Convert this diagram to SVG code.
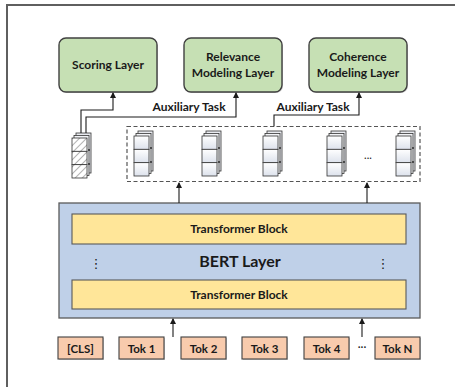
<svg xmlns="http://www.w3.org/2000/svg" width="455" height="387" viewBox="0 0 455 387">
<style>
.t{font-family:Lato,"Liberation Sans",sans-serif;font-weight:bold;fill:#1a1a1a;text-anchor:middle}
.gbox{fill:#c6e0b4;stroke:#404040;stroke-width:1.4}
.tok{fill:#f8cbad;stroke:#404040;stroke-width:1.1}
.tb{fill:#ffe699;stroke:#5a5a5a;stroke-width:1.1}
.con{fill:none;stroke:#1a1a1a;stroke-width:1.1}
.sh{fill:#000;opacity:.18}
</style>
<defs>
<marker id="ah" markerWidth="6" markerHeight="6" refX="5" refY="3" orient="auto" markerUnits="userSpaceOnUse">
<path d="M0,0 L6,3 L0,6 z" fill="#1a1a1a"/>
</marker>
<linearGradient id="cg" x1="0" y1="0" x2="0" y2="1">
<stop offset="0" stop-color="#ffffff"/><stop offset="1" stop-color="#dde2ec"/>
</linearGradient>
<pattern id="hatch" width="5" height="5" patternUnits="userSpaceOnUse" patternTransform="rotate(45)">
<rect width="5" height="5" fill="#fff"/>
<line x1="0" y1="0" x2="0" y2="5" stroke="#555" stroke-width="0.9"/>
</pattern>
<g id="back">
<rect x="4" y="-5" width="15" height="40" fill="#e9ebf0" stroke="#333" stroke-width="0.8"/>
<rect x="2" y="-2.5" width="15" height="40" fill="#f2f3f6" stroke="#333" stroke-width="0.8"/>
<circle cx="17" cy="12" r="0.9" fill="#222"/>
<circle cx="17" cy="26" r="0.9" fill="#222"/>
</g>
<g id="stack">
<use href="#back"/>
<rect x="0" y="0" width="15" height="13.33" fill="url(#cg)" stroke="#333" stroke-width="0.8"/>
<rect x="0" y="13.33" width="15" height="13.33" fill="url(#cg)" stroke="#333" stroke-width="0.8"/>
<rect x="0" y="26.67" width="15" height="13.33" fill="url(#cg)" stroke="#333" stroke-width="0.8"/>
</g>
<g id="hstack">
<use href="#back"/>
<rect x="0" y="0" width="15" height="13.33" fill="url(#hatch)" stroke="#333" stroke-width="0.8"/>
<rect x="0" y="13.33" width="15" height="13.33" fill="url(#hatch)" stroke="#333" stroke-width="0.8"/>
<rect x="0" y="26.67" width="15" height="13.33" fill="url(#hatch)" stroke="#333" stroke-width="0.8"/>
</g>
</defs>
<rect width="455" height="387" fill="#fff"/>
<path d="M7,387 V5 H455" fill="none" stroke="#5f5f5f" stroke-width="2"/>

<g id="scoring">
<rect class="sh" x="60" y="39" width="98" height="54" rx="7"/>
<rect class="gbox" x="59" y="38" width="98" height="54" rx="7"/>
<text class="t" x="108" y="69" font-size="12">Scoring Layer</text>
</g>
<g id="relevance">
<rect class="sh" x="185" y="39" width="98" height="54" rx="7"/>
<rect class="gbox" x="184" y="38" width="98" height="54" rx="7"/>
<text class="t" x="233" y="61" font-size="12">Relevance</text>
<text class="t" x="233" y="76.5" font-size="12">Modeling Layer</text>
</g>
<g id="coherence">
<rect class="sh" x="310" y="39" width="98" height="54" rx="7"/>
<rect class="gbox" x="309" y="38" width="98" height="54" rx="7"/>
<text class="t" x="358" y="61" font-size="12">Coherence</text>
<text class="t" x="358" y="76.5" font-size="12">Modeling Layer</text>
</g>

<g id="cls-vector">
<use href="#hstack" x="72" y="138"/>
</g>
<g id="token-vectors">
<rect x="127" y="126.5" width="293" height="55" fill="none" stroke="#555" stroke-width="1.2" stroke-dasharray="4,2.5"/>
<use href="#stack" x="134" y="136"/>
<use href="#stack" x="202" y="136"/>
<use href="#stack" x="263" y="136"/>
<use href="#stack" x="327" y="136"/>
<text class="t" x="368" y="159" font-size="11" style="font-weight:normal">...</text>
<use href="#stack" x="396" y="136"/>
</g>

<g id="bert">
<rect x="59" y="203" width="361" height="115" fill="#bfd0e8" stroke="#5a5a5a" stroke-width="1.3"/>
<rect class="tb" x="72" y="214" width="334" height="30"/>
<text class="t" x="239" y="233" font-size="12">Transformer Block</text>
<text class="t" x="240" y="267" font-size="16">BERT Layer</text>
<text class="t" x="96" y="268" font-size="13" style="font-family:'DejaVu Sans',sans-serif;font-weight:normal">⋮</text>
<text class="t" x="383" y="268" font-size="13" style="font-family:'DejaVu Sans',sans-serif;font-weight:normal">⋮</text>
<rect class="tb" x="72" y="280" width="334" height="29"/>
<text class="t" x="239" y="299" font-size="12">Transformer Block</text>
</g>

<g id="tokens">
<rect class="sh" x="59" y="338" width="45" height="22"/>
<rect class="tok" x="58" y="337" width="45" height="22"/>
<text class="t" x="80.5" y="352.5" font-size="11.5">[CLS]</text>
<rect class="sh" x="120" y="338" width="45" height="22"/>
<rect class="tok" x="119" y="337" width="45" height="22"/>
<text class="t" x="141.5" y="352.5" font-size="11.5">Tok 1</text>
<rect class="sh" x="182" y="338" width="45" height="22"/>
<rect class="tok" x="181" y="337" width="45" height="22"/>
<text class="t" x="203.5" y="352.5" font-size="11.5">Tok 2</text>
<rect class="sh" x="243" y="338" width="45" height="22"/>
<rect class="tok" x="242" y="337" width="45" height="22"/>
<text class="t" x="264.5" y="352.5" font-size="11.5">Tok 3</text>
<rect class="sh" x="305" y="338" width="45" height="22"/>
<rect class="tok" x="304" y="337" width="45" height="22"/>
<text class="t" x="326.5" y="352.5" font-size="11.5">Tok 4</text>
<text class="t" x="362" y="351" font-size="11" style="font-weight:normal">···</text>
<rect class="sh" x="376" y="338" width="45" height="22"/>
<rect class="tok" x="375" y="337" width="45" height="22"/>
<text class="t" x="397.5" y="352.5" font-size="11.5">Tok N</text>
</g>

<g id="connectors">
<path class="con" d="M81,133 V110 H113 V93" marker-end="url(#ah)"/>
<path class="con" d="M86,133 V117 H236 V93" marker-end="url(#ah)"/>
<path class="con" d="M274,126.5 V115 H359 V93" marker-end="url(#ah)"/>
<text class="t" x="189" y="111" font-size="12">Auxiliary Task</text>
<text class="t" x="313" y="111" font-size="12">Auxiliary Task</text>
<path class="con" d="M179,203 V183" marker-end="url(#ah)"/>
<path class="con" d="M367,203 V183" marker-end="url(#ah)"/>
<path class="con" d="M173,337 V319" marker-end="url(#ah)"/>
<path class="con" d="M362,337 V319" marker-end="url(#ah)"/>
</g>
</svg>
